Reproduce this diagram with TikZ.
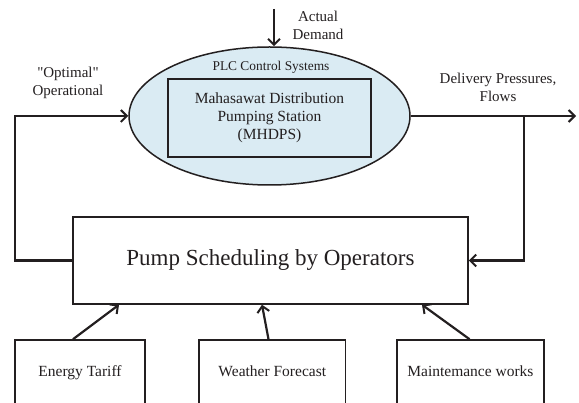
\documentclass[tikz,border=0pt]{standalone}
\usepackage{fontspec}
\setmainfont{Liberation Serif}[Ligatures=TeXOff]
\usetikzlibrary{shapes.geometric,arrows.meta}
\definecolor{ellfill}{HTML}{DAEBF3}
\definecolor{ink}{HTML}{231F20}
\begin{document}
\begin{tikzpicture}[x=1pt,y=-1pt,
  box/.style={draw=ink,line width=1.5pt,rectangle,inner sep=0pt,text=ink},
  smallbox/.style={box,minimum height=66pt,font=\fontsize{15.5}{18}\selectfont,text height=10.5pt,text depth=3.5pt},
  lbl/.style={text=ink,font=\fontsize{15}{18}\selectfont,align=center,inner sep=0pt},
  conn/.style={draw=ink,line width=2.2pt},
  arr/.style={conn,-{Straight Barb[length=6pt,width=12pt,line width=2pt]}}]
\useasboundingbox (0,0) rectangle (579,403);
\clip (0,0) rectangle (579,403);
% ellipse
\node[ellipse,draw=ink,line width=1.5pt,fill=ellfill,minimum width=281pt,minimum height=138pt,inner sep=0pt] (ell) at (269.5,116) {};
\node[text=ink,font=\fontsize{13.4}{16}\selectfont,inner sep=0pt] (plc) at (271,67) {PLC Control Systems};
\node[box,minimum width=203pt,minimum height=78pt,align=center,font=\fontsize{15.5}{18}\selectfont] (mhd) at (269.5,118) {Mahasawat Distribution\\Pumping Station\\(MHDPS)};
% pump scheduling
\node[box,minimum width=395pt,minimum height=87pt,font=\fontsize{23}{26}\selectfont] (pump) at (270.5,260.5) {Pump Scheduling by Operators};
% bottom boxes
\node[smallbox,minimum width=130pt] (e) at (80,373) {Energy Tariff};
\node[smallbox,minimum width=146.6pt] (w) at (272.3,373) {Weather Forecast};
\node[smallbox,minimum width=146.7pt] (m) at (470.4,373) {Maintemance works};
% labels
\node[lbl] (opt) at (68,83) {"Optimal"\\Operational};
\node[lbl] (del) at (498,87.5) {Delivery Pressures,\\Flows};
\node[lbl] (act) at (318,25) {Actual\\Demand};
% coordinates
\coordinate (ad) at (274,9);
\coordinate (lc) at (15,116);
\coordinate (out) at (576,116);
\coordinate (rc) at (524,116);
% connectors
\draw[arr] (ad) -- (ad |- ell.north);
\draw[arr] (pump.west) -| (lc) -- (ell.west);
\draw[arr] (ell.east) -- (out);
\draw[arr] (rc) |- (pump.east);
\draw[arr] ([xshift=-7pt]e.north) -- ([xshift=-151.5pt]pump.south);
\draw[arr] ([xshift=-3.8pt]w.north) -- ([xshift=-8.5pt]pump.south);
\draw[arr] ([xshift=-0.8pt]m.north) -- ([xshift=151.5pt]pump.south);
\end{tikzpicture}
\end{document}
